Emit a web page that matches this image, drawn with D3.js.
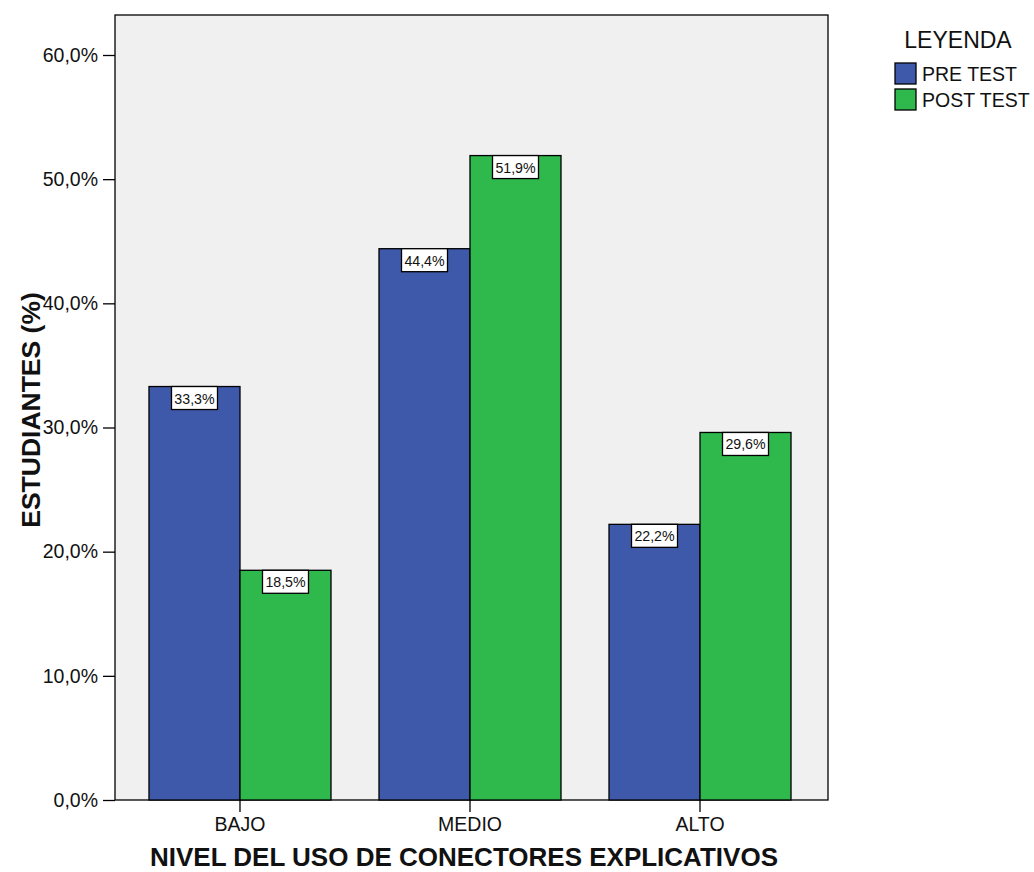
<!DOCTYPE html>
<html>
<head>
<meta charset="utf-8">
<script src="https://cdn.jsdelivr.net/npm/d3@7"></script>
<style>
body{margin:0;background:#fff;}
svg{display:block;font-family:"Liberation Sans",Arial,sans-serif;}
</style>
</head>
<body>
<svg id="chart" width="1034" height="872"></svg>
<script>
const categories = ["BAJO", "MEDIO", "ALTO"];
const seriesNames = ["PRE TEST", "POST TEST"];
const preTest = [33.3, 44.4, 22.2];
const postTest = [18.5, 51.9, 29.6];
const yTicks = [0, 10, 20, 30, 40, 50, 60];
const colors = ["#3f59aa", "#2fb84b"];

const svg = d3.select("#chart");
const plot = {left: 115, right: 828, top: 15, bottom: 800};

const y = d3.scaleLinear().domain([0, 60]).range([800, 55]);
const x = d3.scaleBand().domain(categories).range([125, 815]).paddingInner(0.2087).paddingOuter(0.1043);
const xs = d3.scaleBand().domain(seriesNames).range([0, x.bandwidth()]);

const fmt = v => d3.format(".1f")(v).replace(".", ",") + "%";

svg.append("rect").attr("x", plot.left).attr("y", plot.top)
  .attr("width", plot.right - plot.left).attr("height", plot.bottom - plot.top)
  .attr("fill", "#f0f0f0").attr("stroke", "#000").attr("stroke-width", 1.3);

const data = categories.map((c, i) => ({cat: c, vals: [preTest[i], postTest[i]]}));

const g = svg.append("g");
data.forEach(d => {
  d.vals.forEach((v, j) => {
    const bx = x(d.cat) + xs(seriesNames[j]);
    const by = y(v);
    g.append("rect").attr("x", bx).attr("y", by)
      .attr("width", xs.bandwidth()).attr("height", y(0) - by)
      .attr("fill", colors[j]).attr("stroke", "#000").attr("stroke-width", 1.3);
    const cx = bx + xs.bandwidth() / 2;
    g.append("rect").attr("x", cx - 23).attr("y", by).attr("width", 46).attr("height", 23)
      .attr("fill", "#fff").attr("stroke", "#000").attr("stroke-width", 1.3);
    g.append("text").attr("x", cx).attr("y", by + 17).attr("text-anchor", "middle")
      .attr("font-size", 14.2).attr("fill", "#111").text(fmt(v));
  });
});

// Y axis
const yAxis = d3.axisLeft(y).tickValues(yTicks).tickSize(12).tickPadding(5).tickFormat(fmt);
const ya = svg.append("g").attr("transform", `translate(${plot.left},0)`).call(yAxis);
ya.select(".domain").remove();
ya.selectAll("line").attr("stroke", "#000").attr("stroke-width", 1.3);
ya.selectAll("text").attr("font-size", 19.5).attr("fill", "#111").attr("font-family", "Liberation Sans, Arial, sans-serif");

// X axis
const xAxis = d3.axisBottom(x).tickSize(12).tickPadding(5);
const xa = svg.append("g").attr("transform", `translate(0,${plot.bottom})`).call(xAxis);
xa.select(".domain").remove();
xa.selectAll("line").attr("stroke", "#000").attr("stroke-width", 1.3);
xa.selectAll("text").attr("font-size", 19.5).attr("fill", "#111").attr("font-family", "Liberation Sans, Arial, sans-serif");

// Axis titles
svg.append("text").attr("x", 464).attr("y", 866).attr("text-anchor", "middle")
  .attr("font-size", 26).attr("font-weight", "bold").attr("fill", "#111")
  .text("NIVEL DEL USO DE CONECTORES EXPLICATIVOS");
svg.append("text").attr("transform", "translate(40,410) rotate(-90)").attr("text-anchor", "middle")
  .attr("font-size", 26.5).attr("font-weight", "bold").attr("fill", "#111")
  .text("ESTUDIANTES (%)");

// Legend
const leg = svg.append("g");
leg.append("text").attr("x", 958).attr("y", 48).attr("text-anchor", "middle")
  .attr("font-size", 23).attr("fill", "#111").text("LEYENDA");
seriesNames.forEach((s, i) => {
  leg.append("rect").attr("x", 895).attr("y", 63 + i * 26).attr("width", 21).attr("height", 21)
    .attr("fill", colors[i]).attr("stroke", "#000").attr("stroke-width", 1.3);
  leg.append("text").attr("x", 922).attr("y", 81 + i * 26).attr("font-size", 19.5)
    .attr("fill", "#111").text(s);
});
</script>
</body>
</html>
